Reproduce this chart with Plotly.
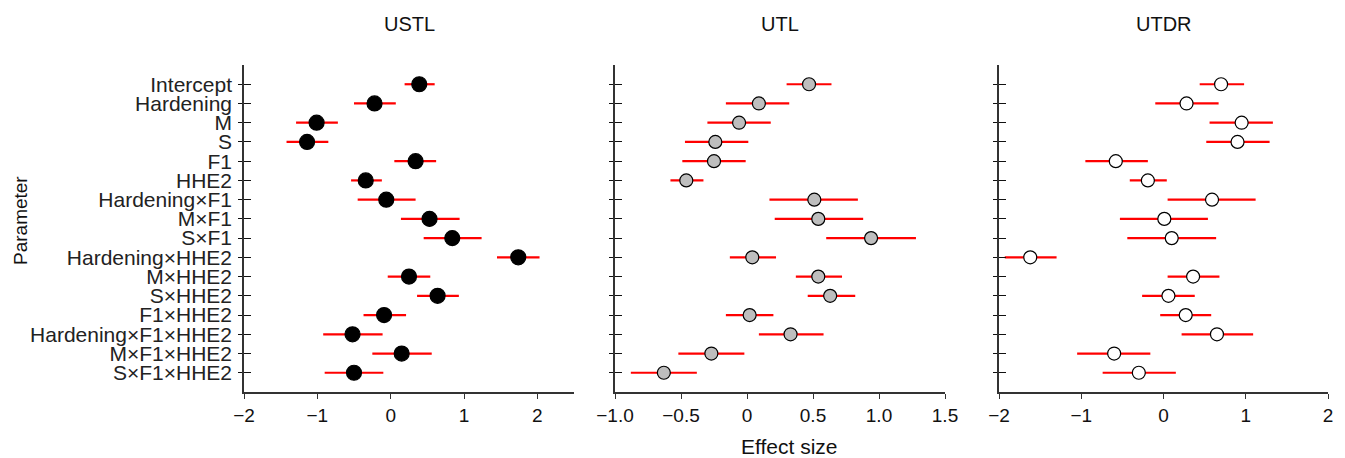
import plotly.graph_objects as go

params = ["Intercept", "Hardening", "M", "S", "F1", "HHE2", "Hardening×F1", "M×F1", "S×F1",
          "Hardening×HHE2", "M×HHE2", "S×HHE2", "F1×HHE2", "Hardening×F1×HHE2",
          "M×F1×HHE2", "S×F1×HHE2"]

panel_titles = ["USTL", "UTL", "UTDR"]

ustl_est = [0.39, -0.22, -1.01, -1.14, 0.34, -0.34, -0.06, 0.53, 0.84, 1.74, 0.25, 0.64, -0.09, -0.52, 0.15, -0.50]
ustl_lo = [0.19, -0.50, -1.29, -1.42, 0.05, -0.54, -0.45, 0.14, 0.45, 1.45, -0.04, 0.36, -0.37, -0.92, -0.25, -0.90]
ustl_hi = [0.60, 0.07, -0.72, -0.85, 0.62, -0.12, 0.34, 0.94, 1.24, 2.03, 0.54, 0.93, 0.21, -0.11, 0.56, -0.10]

utl_est = [0.47, 0.09, -0.06, -0.24, -0.25, -0.46, 0.51, 0.54, 0.94, 0.04, 0.54, 0.63, 0.02, 0.33, -0.27, -0.63]
utl_lo = [0.30, -0.16, -0.30, -0.47, -0.49, -0.58, 0.17, 0.21, 0.60, -0.13, 0.37, 0.46, -0.16, 0.09, -0.52, -0.88]
utl_hi = [0.64, 0.32, 0.18, 0.01, -0.01, -0.33, 0.84, 0.88, 1.28, 0.22, 0.72, 0.82, 0.20, 0.58, -0.02, -0.38]

utdr_est = [0.70, 0.28, 0.95, 0.90, -0.58, -0.19, 0.59, 0.01, 0.10, -1.62, 0.36, 0.06, 0.27, 0.65, -0.60, -0.30]
utdr_lo = [0.44, -0.10, 0.56, 0.52, -0.95, -0.41, 0.05, -0.53, -0.44, -1.93, 0.05, -0.26, -0.04, 0.22, -1.05, -0.74]
utdr_hi = [0.98, 0.67, 1.33, 1.29, -0.19, 0.04, 1.12, 0.54, 0.64, -1.30, 0.68, 0.38, 0.58, 1.09, -0.16, 0.15]

x_ranges = [[-2, 2.5], [-1.0, 1.5], [-2, 2]]
x_tickvals = [[-2, -1, 0, 1, 2], [-1.0, -0.5, 0, 0.5, 1.0, 1.5], [-2, -1, 0, 1, 2]]
x_ticktext = [["−2", "−1", "0", "1", "2"], ["−1.0", "−0.5", "0", "0.5", "1.0", "1.5"],
              ["−2", "−1", "0", "1", "2"]]

# page body has an 8px margin: lay out in page pixels minus that offset
OFF = 8
W, H = 1345 - OFF, 458 - OFF
domains_px = [(244 - OFF, 574 - OFF), (615 - OFF, 945 - OFF), (999 - OFF, 1328 - OFF)]
ydom_px = (65 - OFF, 392 - OFF)
marker_fill = ["#000000", "#bebebe", "#ffffff"]
marker_size = [15, 13, 13]

series = [(ustl_est, ustl_lo, ustl_hi), (utl_est, utl_lo, utl_hi), (utdr_est, utdr_lo, utdr_hi)]

FONT = "Liberation Sans, Arial, sans-serif"
AX = "#333333"

fig = go.Figure()
layout = dict(
    width=W, height=H, margin=dict(l=0, r=0, t=0, b=0, autoexpand=False),
    paper_bgcolor="white", plot_bgcolor="white", showlegend=False,
    font=dict(family=FONT, color="#222222"),
)

n = len(params)
yr = [n, -1]
ydom = [1 - ydom_px[1] / H, 1 - ydom_px[0] / H]
for i, (est, lo, hi) in enumerate(series):
    k = "" if i == 0 else str(i + 1)
    fig.add_trace(go.Scatter(
        x=est, y=params, mode="markers", xaxis="x" + k, yaxis="y" + k,
        error_x=dict(type="data", symmetric=False,
                     array=[h - e for h, e in zip(hi, est)],
                     arrayminus=[e - l for e, l in zip(est, lo)],
                     color="#ff0000", thickness=2.2, width=0),
        marker=dict(size=marker_size[i], color=marker_fill[i], line=dict(color="#000000", width=1.2)),
        hoverinfo="skip",
    ))
    ov = str(4 + i)
    fig.add_trace(go.Scatter(x=[], y=[], xaxis="x" + k, yaxis="y" + ov, hoverinfo="skip"))
    d0, d1 = domains_px[i]
    layout["xaxis" + k] = dict(
        domain=[d0 / W, d1 / W], anchor="y" + k, range=x_ranges[i],
        tickmode="array", tickvals=x_tickvals[i], ticktext=x_ticktext[i], automargin=False,
        showline=True, linecolor=AX, linewidth=1.6, ticks="outside", ticklen=5, tickwidth=1.2,
        tickcolor=AX, showgrid=False, zeroline=False,
        tickfont=dict(size=19, family=FONT, color="#111111"),
    )
    layout["yaxis" + k] = dict(
        domain=ydom, anchor="x" + k, type="category", categoryarray=params, categoryorder="array",
        tickmode="array", tickvals=params, ticktext=params, automargin=False,
        range=yr, showline=True, linecolor=AX, linewidth=1.6, ticks="outside", ticklen=4,
        tickwidth=1.2, tickcolor="#111111", showgrid=False, zeroline=False,
        showticklabels=(i == 0), ticklabelstandoff=2,
        tickfont=dict(size=21, family=FONT, color="#222222"),
    )
    layout["yaxis" + ov] = dict(
        overlaying="y" + k, anchor="x" + k, side="left", type="linear", range=yr,
        tickmode="array", tickvals=list(range(n)), ticks="inside", ticklen=7, tickwidth=1.2,
        tickcolor="#111111", automargin=False,
        showticklabels=False, showline=False, showgrid=False, zeroline=False,
    )

annotations = []
for i, t in enumerate(panel_titles):
    d0, d1 = domains_px[i]
    annotations.append(dict(text=t, x=(d0 + d1) / 2 / W, y=1 - (24 - OFF) / H, xref="paper", yref="paper",
                            showarrow=False, xanchor="center", yanchor="middle",
                            font=dict(size=20, family=FONT, color="#111111")))
annotations.append(dict(text="Effect size", x=(789 - OFF) / W, y=1 - (446 - OFF) / H, xref="paper",
                        yref="paper", showarrow=False, xanchor="center", yanchor="middle",
                        font=dict(size=21, family=FONT, color="#111111")))
annotations.append(dict(text="Parameter", x=(20 - OFF) / W, y=1 - (221 - OFF) / H, xref="paper",
                        yref="paper", showarrow=False, xanchor="center", yanchor="middle", textangle=-90,
                        font=dict(size=19, family=FONT, color="#111111")))
layout["annotations"] = annotations

fig.update_layout(**layout)
fig.write_html("out.html")
